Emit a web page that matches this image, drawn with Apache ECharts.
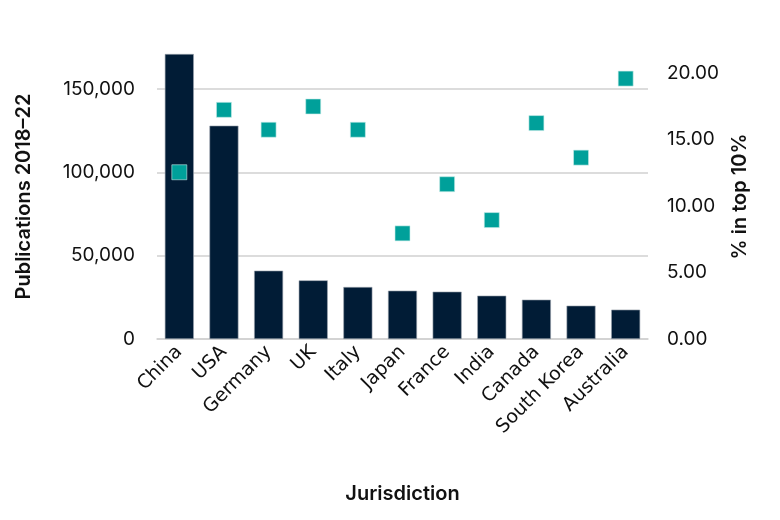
<!DOCTYPE html>
<html>
<head>
<meta charset="utf-8">
<script src="https://cdn.jsdelivr.net/npm/echarts@6/dist/echarts.min.js"></script>
<style>
  html, body { margin: 0; padding: 0; background: #fff; }
  #chart { width: 780px; height: 520px; }
</style>
</head>
<body>
<div id="chart"></div>
<script>
// jurisdictions, publication counts and share of top-10% cited papers
var jurisdictions = ['China', 'USA', 'Germany', 'UK', 'Italy', 'Japan', 'France', 'India', 'Canada', 'South Korea', 'Australia'];
var publications = [171000, 128000, 41000, 35200, 31200, 29000, 28400, 26000, 23600, 20000, 17600];
var pctTop10 = [12.55, 17.25, 15.75, 17.5, 15.75, 7.95, 11.65, 8.95, 16.25, 13.65, 19.6];

var myChart = echarts.init(document.getElementById('chart'));
var numFont = 'Inter';

var option = {
  animation: false,
  grid: { left: 157, right: 132, top: 54, bottom: 181, containLabel: false },
  xAxis: {
    type: 'category',
    data: jurisdictions,
    name: 'Jurisdiction',
    nameLocation: 'middle',
    nameGap: 145,
    nameTextStyle: { fontFamily: 'Inter', fontSize: 20, fontWeight: 600, color: '#111' },
    axisLine: { lineStyle: { color: '#d0d0d0', width: 1.5 } },
    axisTick: { show: false },
    axisLabel: {
      interval: 0,
      rotate: 45,
      margin: 10,
      fontFamily: 'DejaVu Sans',
      fontSize: 19,
      color: '#111'
    }
  },
  yAxis: [{
    type: 'value',
    min: 0,
    max: 171000,
    interval: 50000,
    name: 'Publications 2018–22',
    nameLocation: 'middle',
    nameRotate: 90,
    nameGap: 123,
    nameTextStyle: { fontFamily: 'Inter', fontSize: 20, fontWeight: 600, color: '#111' },
    axisLine: { show: false },
    axisTick: { show: false },
    axisLabel: {
      showMaxLabel: false,
      margin: 22,
      fontFamily: numFont,
      fontSize: 19,
      color: '#111',
      formatter: function (v) { return v.toLocaleString('en-US'); }
    },
    splitLine: {
      showMaxLine: false,
      lineStyle: { color: '#d0d0d0', width: 1.5 }
    }
  }, {
    type: 'value',
    min: 0,
    max: 21.45,
    interval: 5,
    name: '% in top 10%',
    nameLocation: 'middle',
    nameRotate: 90,
    nameGap: 80,
    nameTextStyle: { fontFamily: 'Inter', fontSize: 20, fontWeight: 600, color: '#111' },
    axisLine: { show: false },
    axisTick: { show: false },
    splitLine: { show: false },
    axisLabel: {
      showMaxLabel: false,
      margin: 19,
      fontFamily: numFont,
      fontSize: 19,
      color: '#111',
      formatter: function (v) { return v.toFixed(2); }
    }
  }],
  series: [{
    name: 'Publications 2018–22',
    type: 'bar',
    data: publications,
    barWidth: 29,
    itemStyle: { color: '#011c36', borderColor: '#9aa3ad', borderWidth: 0.6 }
  }, {
    name: '% in top 10%',
    type: 'scatter',
    yAxisIndex: 1,
    data: pctTop10,
    symbol: 'rect',
    symbolSize: 15,
    itemStyle: { color: '#00a09a', opacity: 1, borderColor: '#c8ecea', borderWidth: 0.6 },
    z: 5
  }]
};
myChart.setOption(option);
</script>
</body>
</html>
